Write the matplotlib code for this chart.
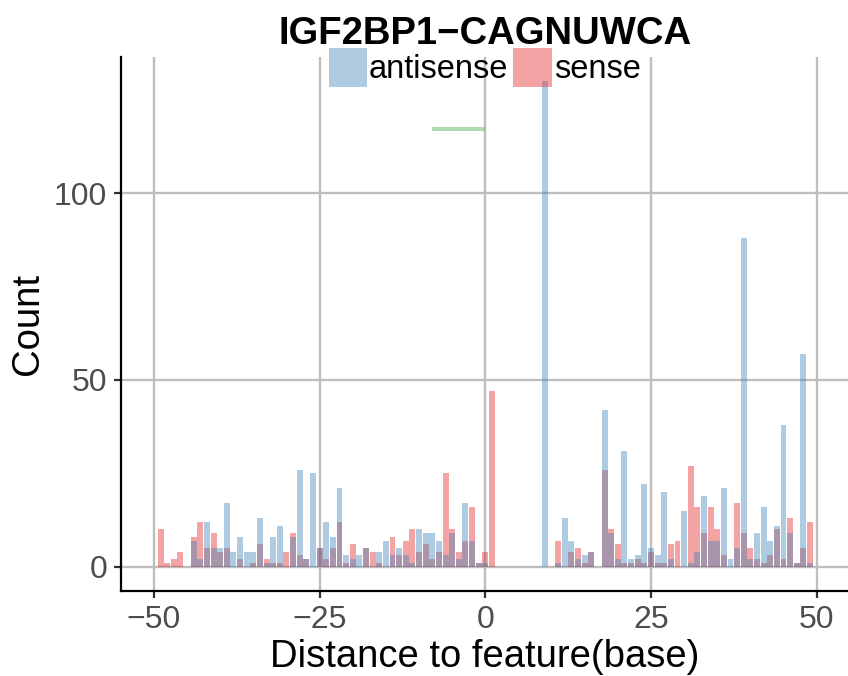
import matplotlib
matplotlib.use("Agg")
import matplotlib.pyplot as plt
from matplotlib.patches import Rectangle

# Positions relative to the feature (-50 .. 50)
positions = list(range(-50, 51))

# Counts, one value per position
antisense = [0, 0, 0, 0, 0, 0, 7, 2, 12, 5,
             5, 17, 4, 8, 4, 4, 13, 1, 8, 11,
             0, 8, 26, 2, 25, 5, 12, 8, 21, 3,
             2, 3, 5, 0, 4, 7, 3, 5, 3, 1,
             10, 9, 9, 7, 3, 9, 2, 17, 7, 1,
             1, 0, 0, 0, 0, 0, 0, 0, 0, 130,
             0, 1, 13, 7, 2, 3, 4, 0, 42, 9,
             2, 31, 2, 3, 22, 5, 3, 20, 2, 0,
             15, 1, 4, 19, 7, 7, 21, 2, 5, 88,
             2, 9, 16, 7, 11, 38, 9, 1, 57, 1,
             0]
sense = [0, 10, 1, 2, 4, 0, 8, 12, 5, 9,
         4, 5, 0, 2, 0, 1, 6, 2, 1, 1,
         4, 9, 3, 2, 0, 5, 2, 5, 12, 1,
         6, 0, 5, 4, 1, 0, 8, 3, 7, 10,
         4, 6, 2, 4, 25, 10, 4, 7, 16, 1,
         4, 47, 0, 0, 0, 0, 0, 0, 0, 0,
         0, 7, 0, 4, 5, 1, 4, 0, 26, 10,
         6, 1, 1, 2, 1, 4, 1, 1, 6, 7,
         0, 27, 16, 9, 16, 10, 3, 0, 17, 9,
         5, 2, 1, 3, 10, 2, 13, 1, 5, 12,
         0]

# Feature span (the motif) drawn as a green segment above the bars
feature_x = [-8, 0]
feature_y = [117, 117]

title = "IGF2BP1\u2212CAGNUWCA"
series_names = ["antisense", "sense"]

BLUE = "#377EB8"
RED = "#E41A1C"
GREEN = "#4DAF4A"
W, H = 848, 676

plt.rcParams["font.family"] = ["Liberation Sans", "DejaVu Sans"]

fig = plt.figure(figsize=(W / 100, H / 100), dpi=100)
ax = fig.add_axes([121 / W, 1 - 591 / H, (W - 121) / W, (591 - 57) / H])

# Bars: sense first, antisense on top (overlap turns purple)
ax.bar(positions, sense, width=0.9, color=RED, alpha=0.4, linewidth=0)
ax.bar(positions, antisense, width=0.9, color=BLUE, alpha=0.4, linewidth=0)
ax.plot(feature_x, feature_y, color=GREEN, alpha=0.45, linewidth=2.9,
        solid_capstyle="butt")

ax.set_xlim(-54.97, 54.73)
ax.set_ylim(-6.5, 136.4)
ax.set_xticks([-50, -25, 0, 25, 50])
ax.set_yticks([0, 50, 100])

ax.set_axisbelow(True)
ax.grid(color="#BEBEBE", linewidth=1.7)
for side in ["top", "right"]:
    ax.spines[side].set_visible(False)
for side in ["left", "bottom"]:
    ax.spines[side].set_color("black")
    ax.spines[side].set_linewidth(1.6)
ax.tick_params(length=5, width=1.6, color="#333333", labelcolor="#4D4D4D",
               labelsize=23, pad=5)

# Title, axis titles
fig.text(485 / W, 1 - 44 / H, title, ha="center", va="baseline",
         fontsize=27.5, fontweight="bold")
fig.text(485 / W, 1 - 667 / H, "Distance to feature(base)", ha="center",
         va="baseline", fontsize=27.5)
fig.text(28 / W, 1 - 324 / H, "Count", rotation=90, ha="center",
         va="center", fontsize=27.5)

# Legend drawn by hand across the top of the panel
for (x0, x1, tx), name, col in zip([(329, 367, 369), (513, 552, 554)],
                                   series_names, [BLUE, RED]):
    fig.add_artist(Rectangle((x0 / W, 1 - 87 / H), (x1 - x0) / W, 39 / H,
                             transform=fig.transFigure, facecolor=col,
                             alpha=0.4, edgecolor="none"))
    fig.text(tx / W, 1 - 78 / H, name, ha="left", va="baseline",
             fontsize=23.5)

fig.savefig("out.png", dpi=100)
